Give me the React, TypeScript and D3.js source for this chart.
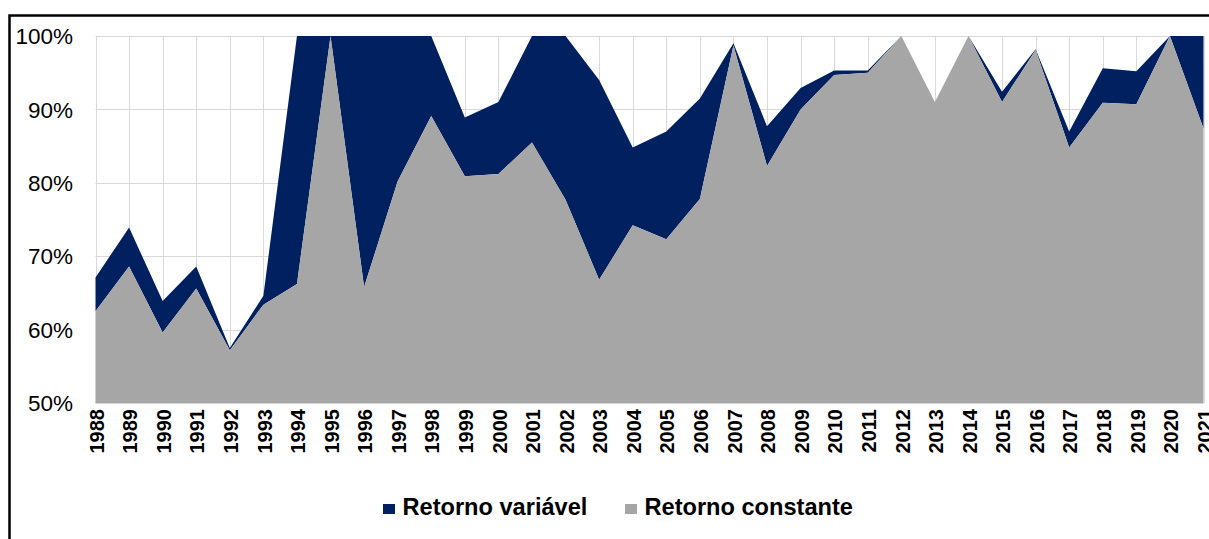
import React, { useRef, useEffect } from 'react';
import * as d3 from 'd3';

const years = [
  '1988', '1989', '1990', '1991', '1992', '1993', '1994', '1995', '1996', '1997', '1998',
  '1999', '2000', '2001', '2002', '2003', '2004', '2005', '2006', '2007', '2008', '2009',
  '2010', '2011', '2012', '2013', '2014', '2015', '2016', '2017', '2018', '2019', '2020', '2021'
];

// share (%) with constant returns
const constante = [
  62.5, 68.6, 59.6, 65.6, 57.2, 63.4, 66.2, 100, 65.8, 80.2, 89.1,
  80.9, 81.2, 85.5, 77.7, 66.8, 74.2, 72.3, 77.8, 98.7, 82.3, 90.0,
  94.7, 95.0, 100, 91.0, 100, 91.0, 98.1, 84.8, 90.9, 90.7, 100, 87.4
];

// share (%) with variable returns, stacked on top
const variavel = [
  4.6, 5.3, 4.3, 3.0, 0.3, 1.2, 33.8, 0, 34.2, 19.8, 10.9,
  8.0, 9.8, 14.5, 22.3, 27.2, 10.6, 14.7, 13.7, 0.3, 5.4, 2.9,
  0.6, 0.3, 0, 0, 0, 1.4, 0.1, 2.2, 4.7, 4.5, 0, 12.6
];

const yTicks = [50, 60, 70, 80, 90, 100];

const seriesNames = { variavel: 'Retorno variável', constante: 'Retorno constante' };
const colors = { variavel: '#002060', constante: '#a6a6a6' };

const App = () => {
  const svgRef = useRef<SVGSVGElement>(null);

  useEffect(() => {
    const width = 1209;
    const height = 539;
    const margin = { top: 36, right: 5.5, bottom: 136, left: 95.5 };

    const svg = d3.select(svgRef.current);
    svg.selectAll('*').remove();

    // outer frame (right and bottom edges fall outside the picture)
    svg.append('rect')
      .attr('x', 9.5).attr('y', 15.5)
      .attr('width', width + 20).attr('height', height + 20)
      .attr('fill', '#fff')
      .attr('stroke', '#000')
      .attr('stroke-width', 2.5);

    const x = d3.scalePoint()
      .domain(years)
      .range([margin.left, width - margin.right]);

    const y = d3.scaleLinear()
      .domain([50, 100])
      .range([height - margin.bottom, margin.top])
      .clamp(true);

    const rows = years.map((yr, i) => ({ year: yr, constante: constante[i], variavel: variavel[i] }));
    const stacked = d3.stack().keys(['constante', 'variavel'])(rows as any);

    // grid
    const grid = svg.append('g').attr('stroke', '#d9d9d9').attr('stroke-width', 1);
    yTicks.forEach((t) => {
      grid.append('line')
        .attr('x1', margin.left).attr('x2', width - margin.right)
        .attr('y1', Math.round(y(t)) + 0.5).attr('y2', Math.round(y(t)) + 0.5);
    });
    years.forEach((yr) => {
      grid.append('line')
        .attr('x1', Math.round(x(yr)!) + 0.5).attr('x2', Math.round(x(yr)!) + 0.5)
        .attr('y1', y(100)).attr('y2', y(50));
    });

    const area = d3.area<any>()
      .x((d) => x(d.data.year)!)
      .y0((d) => y(d[0]))
      .y1((d) => y(d[1]));

    // variable on the back, constant in front
    [stacked[1], stacked[0]].forEach((s) => {
      svg.append('path')
        .datum(s)
        .attr('fill', colors[s.key as 'variavel' | 'constante'])
        .attr('d', area);
    });

    // y labels
    svg.append('g')
      .selectAll('text')
      .data(yTicks)
      .join('text')
      .attr('x', 73)
      .attr('y', (d) => y(d))
      .attr('dy', '0.36em')
      .attr('text-anchor', 'end')
      .attr('font-family', 'Arial, "Liberation Sans", sans-serif')
      .attr('font-size', 22.5)
      .attr('fill', '#000')
      .text((d) => `${d}%`);

    // x labels
    svg.append('g')
      .selectAll('text')
      .data(years)
      .join('text')
      .attr('transform', (d) => `translate(${x(d)! + 1}, 409) rotate(-90)`)
      .attr('dy', '0.36em')
      .attr('text-anchor', 'end')
      .attr('font-family', 'Arial, "Liberation Sans", sans-serif')
      .attr('font-weight', 'bold')
      .attr('font-size', 20)
      .attr('fill', '#000')
      .text((d) => d);

    // legend
    const legend = svg.append('g').attr('font-family', 'Arial, "Liberation Sans", sans-serif');
    [
      { key: 'variavel', x: 383 },
      { key: 'constante', x: 625 }
    ].forEach((it) => {
      legend.append('rect')
        .attr('x', it.x).attr('y', 504)
        .attr('width', 12).attr('height', 10)
        .attr('fill', colors[it.key as 'variavel' | 'constante']);
      legend.append('text')
        .attr('x', it.x + 19.5).attr('y', 514.5)
        .attr('font-size', 23.6)
        .attr('font-weight', 'bold')
        .attr('fill', '#000')
        .text(seriesNames[it.key as 'variavel' | 'constante']);
    });
  }, []);

  return (
    <svg
      ref={svgRef}
      width={1209}
      height={539}
      style={{ position: 'absolute', left: 0, top: 0, background: '#fff' }}
    />
  );
};

export default App;
